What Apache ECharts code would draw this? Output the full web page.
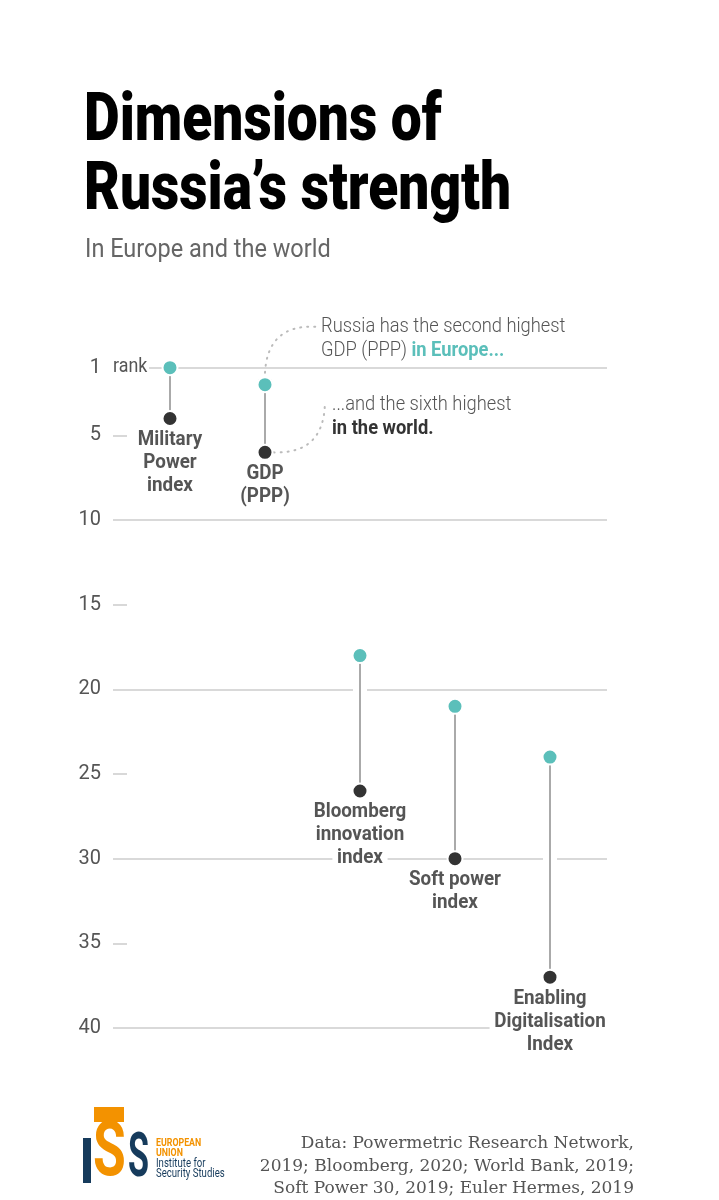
<!DOCTYPE html>
<html lang="en">

<head>
  <meta charset="utf-8">
  <title>Dimensions of Russia's strength</title>
  <script src="https://cdn.jsdelivr.net/npm/echarts@6.0.0/dist/echarts.min.js"></script>
  <style>
    body {
      margin: 0;
      background: white;
      overflow: hidden;
    }

    #chart {
      width: 719px;
      height: 1200px;
    }
  </style>
</head>

<body>
  <div id="chart"></div>

  <script>
    // --- Data.

    // One column per ranking, left to right.
    const CATEGORIES = [
      'Military\nPower\nindex',
      'GDP\n(PPP)',
      'Bloomberg\ninnovation\nindex',
      'Soft power\nindex',
      'Enabling\nDigitalisation\nIndex'
    ];

    // Russia's rank among European countries (teal dots).
    const EUROPE_RANK = [1, 2, 18, 21, 24];

    // Russia's rank in the world (dark dots).
    const WORLD_RANK = [4, 6, 26, 30, 37];

    // Tick labels on the rank axis, and where the full gridlines / short ticks go.
    const RANK_LABELS = [1, 5, 10, 15, 20, 25, 30, 35, 40];
    const GRID_RANKS = [1, 10, 20, 30, 40];
    const SHORT_TICKS = [5, 15, 25, 35];

    // Source note, one entry per printed line.
    const SOURCE_LINES = [
      'Data: Powermetric Research Network,',
      '2019; Bloomberg, 2020; World Bank, 2019;',
      'Soft Power 30, 2019; Euler Hermes, 2019'
    ];

    // --- Constants.

    const TEAL = '#5bbfba';
    const DARK = '#333333';
    const GREY_TEXT = '#555555';
    const GRID_COLOR = '#cccccc';
    const ORANGE = '#f39200';
    const NAVY = '#163b5c';
    // No narrow face is installed, so Roboto gets squeezed with scaleX where needed.
    const SANS = 'Roboto, "Liberation Sans", sans-serif';
    const SERIF = '"DejaVu Serif", "Liberation Serif", serif';

    const X_MIN = 0.4;
    const X_MAX = 5.6;

    const chart = echarts.init(document.getElementById('chart'));

    // Stem between the Europe and the world rank, with a white halo over gridlines.
    function renderStem(params, api) {
      const top = api.coord([api.value(0), api.value(1)]);
      const bottom = api.coord([api.value(0), api.value(2)]);
      const shape = { x1: top[0], y1: top[1], x2: bottom[0], y2: bottom[1] };
      return {
        type: 'group',
        children: [
          { type: 'line', shape: shape, style: { stroke: '#ffffff', lineWidth: 14 } },
          { type: 'line', shape: shape, style: { stroke: '#aaaaaa', lineWidth: 2 } }
        ]
      };
    }

    // Narrow bold category name under the world-rank dot, each line boxed in white.
    function renderName(params, api) {
      const pt = api.coord([api.value(0), api.value(1)]);
      const name = CATEGORIES[params.dataIndex];
      return {
        type: 'text',
        x: pt[0],
        y: pt[1] + 10,
        scaleX: 0.94,
        style: {
          text: name.split('\n').map(l => '{b|' + l + '}').join('\n'),
          align: 'center',
          verticalAlign: 'top',
          rich: {
            b: {
              font: 'bold 20px ' + SANS,
              fill: GREY_TEXT,
              lineHeight: 23,
              backgroundColor: '#ffffff',
              padding: [0, 5]
            }
          }
        }
      };
    }

    // Gridlines; the one at rank 1 starts after the "rank" label.
    const gridLines = GRID_RANKS.map(r => [
      { coord: [r === 1 ? X_MIN + 0.38 : X_MIN, r] },
      { coord: [X_MAX, r] }
    ]);

    // Dotted connectors from the GDP dots to the notes.
    const connectors = [
      { coords: [[2, 1.3], [2.54, -1.42]], lineStyle: { curveness: 0.5 } },
      { coords: [[2.09, 6], [2.63, 3.19]], lineStyle: { curveness: -0.5 } }
    ];

    // Right-aligned source lines at the foot of the page.
    const sourceText = SOURCE_LINES.map((line, i) => ({
      type: 'text',
      x: 634,
      y: 1144 + i * 22.5,
      style: {
        text: line,
        font: '17px ' + SERIF,
        align: 'right',
        verticalAlign: 'middle',
        fill: GREY_TEXT
      }
    }));

    const option = {
      animation: false,
      grid: { left: 113, right: 112, top: 300, bottom: 172 },
      xAxis: {
        type: 'value',
        min: X_MIN,
        max: X_MAX,
        show: false
      },
      yAxis: {
        type: 'value',
        inverse: true,
        min: -3,
        max: 40,
        axisLine: { show: false },
        splitLine: { show: false },
        axisTick: {
          show: true,
          inside: true,
          length: 14,
          customValues: SHORT_TICKS,
          lineStyle: { color: GRID_COLOR, width: 1.5 }
        },
        axisLabel: {
          customValues: RANK_LABELS,
          margin: 12,
          color: GREY_TEXT,
          fontSize: 20,
          fontFamily: SANS
        }
      },
      graphic: [
        {
          type: 'text', left: 84, top: 89, scaleX: 0.835,
          style: {
            text: 'Dimensions of\nRussia\u2019s strength',
            font: '900 66px ' + SANS,
            lineHeight: 69,
            fill: '#000000'
          }
        },
        {
          type: 'text', left: 85, top: 238, scaleX: 0.94,
          style: {
            text: 'In Europe and the world',
            font: '25px ' + SANS,
            fill: '#666666'
          }
        },
        {
          type: 'text', left: 113, top: 356, scaleX: 0.85,
          style: { text: 'rank', font: '21px ' + SANS, fill: GREY_TEXT }
        },
        {
          type: 'text', left: 321, top: 315, scaleX: 0.916,
          style: {
            text: 'Russia has the second highest\nGDP (PPP) {t|in Europe...}',
            font: '300 20px ' + SANS,
            lineHeight: 24,
            fill: GREY_TEXT,
            rich: {
              t: { font: 'bold 20px ' + SANS, fill: TEAL, lineHeight: 24 }
            }
          }
        },
        {
          type: 'text', left: 332, top: 393, scaleX: 0.916,
          style: {
            text: '...and the sixth highest\n{d|in the world.}',
            font: '300 20px ' + SANS,
            lineHeight: 24,
            fill: GREY_TEXT,
            rich: {
              d: { font: 'bold 20px ' + SANS, fill: DARK, lineHeight: 24 }
            }
          }
        },
        ...sourceText,
        // ISS logo.
        { type: 'rect', shape: { x: 94, y: 1107, width: 30, height: 15 }, style: { fill: ORANGE } },
        { type: 'rect', shape: { x: 83, y: 1138, width: 8, height: 45 }, style: { fill: NAVY } },
        {
          type: 'text', left: 93, top: 1118, scaleX: 0.7,
          style: { text: 'S', font: 'bold 76px ' + SANS, fill: ORANGE }
        },
        {
          type: 'text', left: 128, top: 1129, scaleX: 0.55,
          style: { text: 'S', font: 'bold 62px ' + SANS, fill: NAVY }
        },
        {
          type: 'text', left: 156, top: 1138, scaleX: 0.8,
          style: { text: 'EUROPEAN\nUNION', font: 'bold 11px ' + SANS, lineHeight: 10, fill: ORANGE }
        },
        {
          type: 'text', left: 156, top: 1158, scaleX: 0.8,
          style: { text: 'Institute for\nSecurity Studies', font: '12px ' + SANS, lineHeight: 10, fill: NAVY }
        }
      ],
      series: [
        {
          // Carries the gridlines only.
          type: 'line',
          data: [],
          z: 1,
          markLine: {
            z: 1,
            silent: true,
            symbol: 'none',
            label: { show: false },
            lineStyle: { color: GRID_COLOR, width: 1.5, type: 'solid' },
            data: gridLines
          }
        },
        {
          type: 'lines',
          coordinateSystem: 'cartesian2d',
          z: 2,
          silent: true,
          lineStyle: { color: '#bbbbbb', width: 2, type: [1, 6], cap: 'round', opacity: 1 },
          data: connectors
        },
        {
          type: 'custom',
          z: 3,
          silent: true,
          renderItem: renderStem,
          data: CATEGORIES.map((c, i) => [i + 1, EUROPE_RANK[i], WORLD_RANK[i]])
        },
        {
          type: 'custom',
          z: 4,
          silent: true,
          renderItem: renderName,
          data: WORLD_RANK.map((r, i) => [i + 1, r])
        },
        {
          name: 'Europe',
          type: 'scatter',
          z: 5,
          symbolSize: 15,
          itemStyle: { color: TEAL, borderColor: '#ffffff', borderWidth: 2, opacity: 1 },
          data: EUROPE_RANK.map((r, i) => [i + 1, r])
        },
        {
          name: 'World',
          type: 'scatter',
          z: 5,
          symbolSize: 15,
          itemStyle: { color: DARK, borderColor: '#ffffff', borderWidth: 2, opacity: 1 },
          data: WORLD_RANK.map((r, i) => [i + 1, r])
        }
      ]
    };

    chart.setOption(option);
  </script>
</body>

</html>
